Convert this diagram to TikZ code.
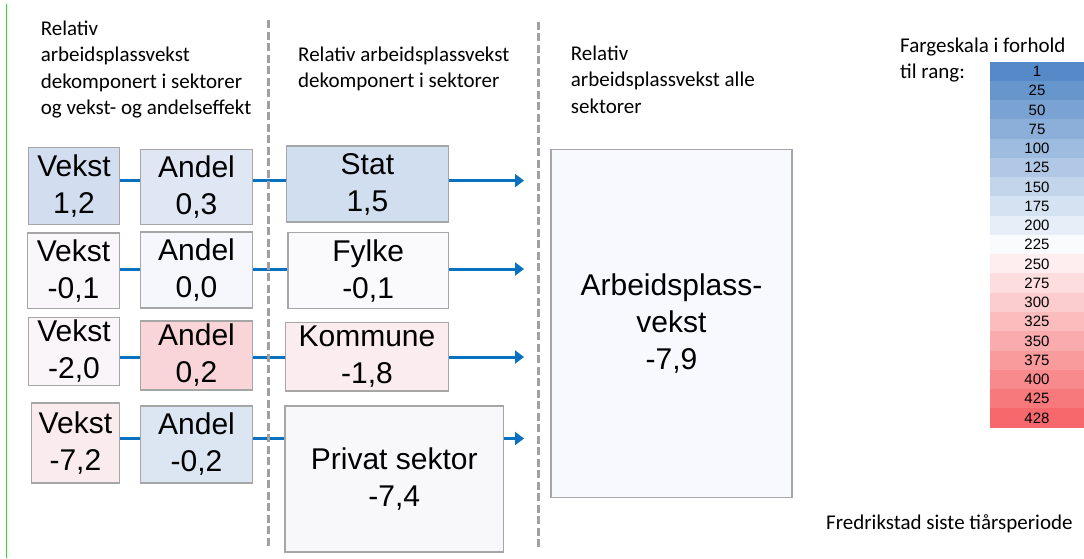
\documentclass[tikz,border=0pt]{standalone}
\usepackage{fontspec}
\setmainfont{Liberation Sans}
\newfontfamily\hcal{Carlito}
\usetikzlibrary{arrows.meta,calc}
\definecolor{bordergray}{RGB}{166,166,166}
\definecolor{dashgray}{RGB}{160,160,160}
\definecolor{connblue}{RGB}{10,112,192}
\definecolor{scaleblue}{RGB}{85,137,199}
\definecolor{scalered}{RGB}{246,104,108}
\definecolor{greenline}{RGB}{40,220,40}
\definecolor{cVa}{RGB}{210,222,239}
\definecolor{cAa}{RGB}{223,231,244}
\definecolor{cSa}{RGB}{208,222,239}
\definecolor{cVb}{RGB}{249,247,250}
\definecolor{cAb}{RGB}{245,247,253}
\definecolor{cSb}{RGB}{250,249,251}
\definecolor{cVc}{RGB}{249,245,248}
\definecolor{cAc}{RGB}{249,213,218}
\definecolor{cSc}{RGB}{251,236,239}
\definecolor{cVd}{RGB}{249,235,238}
\definecolor{cAd}{RGB}{220,230,243}
\definecolor{cSd}{RGB}{248,247,250}
\definecolor{cTot}{RGB}{248,249,254}
\tikzset{
  valbox/.style={draw=bordergray, line width=1.2pt, inner sep=0pt, align=center,
    font=\fontsize{30}{37}\selectfont},
  conn/.style={draw=connblue, line width=3pt},
  connarrow/.style={conn, -{Triangle[length=9pt,width=13pt]}},
  sepline/.style={draw=dashgray, line width=3pt, dash pattern=on 8pt off 3.5pt},
  headtxt/.style={anchor=base west, inner sep=0pt},
  cell/.style={inner sep=0pt, minimum width=94pt, minimum height=19.4pt,
    font=\fontsize{15}{17}\selectfont}
}
\newcommand{\hdfont}{\hcal\fontsize{21}{26.5}\selectfont}
\begin{document}
\begin{tikzpicture}[x=1pt,y=-1pt]
\useasboundingbox (0,0) rectangle (1084,558);
% green edge line
\coordinate (gtop) at (6,4);
\coordinate (gbot) at (6,558);
\draw[greenline, line width=1pt] (gtop) -- (gbot);

% headers
\node[headtxt] (h1) at (40.6,35) {\parbox[t]{260pt}{\hdfont Relativ\\arbeidsplassvekst\\dekomponert i sektorer\\og vekst- og andelseffekt}};
\node[headtxt] (h2) at (298,61.3) {\parbox[t]{260pt}{\hdfont Relativ arbeidsplassvekst\\dekomponert i sektorer}};
\node[headtxt] (h3) at (570.7,60) {\parbox[t]{260pt}{\hdfont Relativ\\arbeidsplassvekst alle\\sektorer}};
\node[headtxt] (h4) at (900,52) {\parbox[t]{200pt}{\hdfont Fargeskala i forhold\\til rang:}};
\node[headtxt] (h5) at (826,529) {\hdfont Fredrikstad siste tiårsperiode};

% boxes row 1
\node[valbox, fill=cVa, minimum width=91pt, minimum height=77pt] (v1) at (74,186) {Vekst\\1,2};
\node[valbox, fill=cAa, minimum width=112pt, minimum height=75.4pt] (a1) at (196.5,187) {Andel\\0,3};
\node[valbox, fill=cSa, minimum width=162pt, minimum height=76pt] (s1) at (367.4,184) {Stat\\1,5};
% row 2
\node[valbox, fill=cVb, minimum width=92pt, minimum height=75.7pt] (v2) at (73.5,270.9) {Vekst\\-0,1};
\node[valbox, fill=cAb, minimum width=112pt, minimum height=76pt] (a2) at (196.5,270) {Andel\\0,0};
\node[valbox, fill=cSb, minimum width=160.4pt, minimum height=76pt] (s2) at (368.1,270.6) {Fylke\\-0,1};
% row 3
\node[valbox, fill=cVc, minimum width=91pt, minimum height=68.5pt] (v3) at (74,351.5) {Vekst\\-2,0};
\node[valbox, fill=cAc, minimum width=112pt, minimum height=69pt] (a3) at (196.5,355.4) {Andel\\0,2};
\node[valbox, fill=cSc, minimum width=162.5pt, minimum height=68.5pt] (s3) at (367,356.7) {Kommune\\-1,8};
% row 4
\node[valbox, fill=cVd, minimum width=88pt, minimum height=80pt] (v4) at (75.4,443) {Vekst\\-7,2};
\node[valbox, fill=cAd, minimum width=112pt, minimum height=77pt] (a4) at (196.5,444.4) {Andel\\-0,2};
\node[valbox, fill=cSd, minimum width=218.4pt, minimum height=146pt] (s4) at (394.2,478.9) {Privat sektor\\-7,4};
% total
\node[valbox, fill=cTot, minimum width=241pt, minimum height=348.4pt] (tot) at (671.5,323.5) {Arbeidsplass-\\vekst\\-7,9};

% connector levels and arrow tips
\coordinate (r1) at (0,180.6);
\coordinate (r2) at (0,269);
\coordinate (r3) at (0,357);
\coordinate (r4) at (0,438.5);
\coordinate (t1) at (524,180.6);
\coordinate (t2) at (524,269);
\coordinate (t3) at (524,357);
\coordinate (t4) at (524,438.5);
\foreach \k in {1,2,3,4}{
  \draw[conn] (v\k.east|-r\k) -- (a\k.west|-r\k);
  \draw[conn] (a\k.east|-r\k) -- (s\k.west|-r\k);
  \draw[connarrow] (s\k.east|-r\k) -- (t\k);
}

% dashed separators
\coordinate (d1a) at (268,20);
\coordinate (d1b) at (268,548);
\coordinate (d2a) at (538,21.7);
\coordinate (d2b) at (538,550);
\draw[sepline] (d1a) -- (d1b);
\draw[sepline] (d2a) -- (d2b);

% colour scale
\foreach \lab [count=\i from 0] in {1,25,50,75,100,125,150,175,200,225,250,275,300,325,350,375,400,425,428}{
  \ifnum\i<9
    \pgfmathsetmacro{\p}{100-10.75*\i}
    \colorlet{cellc}{scaleblue!\p!white}
  \else
    \ifnum\i=9
      \colorlet{cellc}{scaleblue!3!white}
    \else
      \pgfmathsetmacro{\p}{(\i-9)*100/9}
      \colorlet{cellc}{scalered!\p!white}
    \fi
  \fi
  \node[cell, fill=cellc] (sc\i) at (1037,{61.7+19.26*\i+9.63}) {\lab};
}
\end{tikzpicture}
\end{document}
